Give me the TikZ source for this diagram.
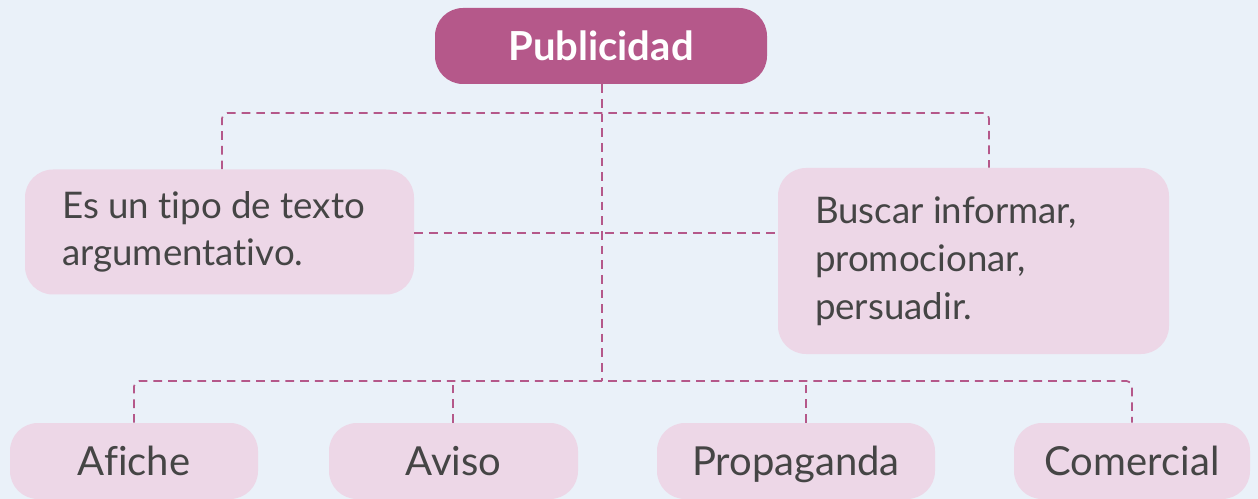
\documentclass[tikz,border=0pt]{standalone}
\usepackage{fontspec}
\setmainfont{Lato}[RawFeature={-liga}]
\definecolor{bgc}{HTML}{EAF1F9}
\definecolor{pinkc}{HTML}{EDD7E7}
\definecolor{magc}{HTML}{B5588A}
\definecolor{txtc}{HTML}{454545}
\begin{document}
\begin{tikzpicture}[x=0.75pt,y=-0.75pt,
  box/.style={fill=pinkc, rounded corners=21pt, inner sep=0pt, text=txtc},
  bottext/.style={font=\fontsize{30}{34}\selectfont, text height=21.5pt, text depth=0pt},
  conn/.style={draw=magc, line width=1.3pt, dash pattern=on 6.5pt off 4.5pt, rounded corners=4pt}]
\useasboundingbox (0,0) rectangle (1258,499);
\clip (0,0) rectangle (1258,499);
\fill[bgc] (0,0) rectangle (1258,499);
% top node
\node[box, fill=magc, text=white, minimum width=249pt, minimum height=57pt,
  font=\fontsize{30}{34}\selectfont\bfseries, text height=21.8pt, text depth=0pt] (pub) at (601,46) {Publicidad};
% middle boxes
\node[box, minimum width=291.75pt, minimum height=93.75pt] (left) at (219.5,232)
  {\begin{minipage}{236pt}\fontsize{27.5}{35}\selectfont Es un tipo de texto\\argumentativo.\end{minipage}};
\node[box, minimum width=293.25pt, minimum height=139.5pt] (right) at (973.5,261)
  {\begin{minipage}{237.75pt}\fontsize{27.5}{36}\selectfont Buscar informar,\\promocionar,\\persuadir.\end{minipage}};
% bottom boxes
\node[box, bottext, minimum width=186pt, minimum height=57pt] (afi) at (134,461) {Afiche};
\node[box, bottext, minimum width=186.75pt, minimum height=57pt] (avi) at (453.5,461) {Aviso};
\node[box, bottext, minimum width=208.5pt, minimum height=57pt] (pro) at (796,461) {Propaganda};
\node[box, bottext, minimum width=177pt, minimum height=57pt] (com) at (1132,461) {Comercial};
% bus coordinates
\coordinate (bus1) at (602,113);
\coordinate (bus2) at (602,381);
% connectors
\draw[conn] (pub.south -| bus1) -- (bus2);
\draw[conn] (left.north -| 222,0) |- (bus1) -| (right.north -| 989,0);
\draw[conn] (left.east |- 0,233) -- (right.west |- 0,233);
\draw[conn] (afi.north) |- (bus2) -| (com.north);
\draw[conn] (avi.north -| 453,0) -- (453,381);
\draw[conn] (pro.north -| 806,0) -- (806,381);
\end{tikzpicture}
\end{document}
